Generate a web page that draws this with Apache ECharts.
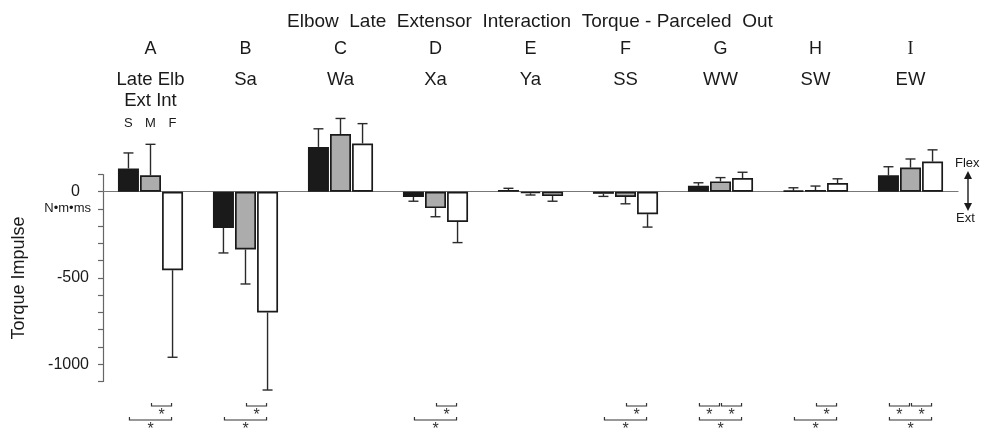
<!DOCTYPE html>
<html>
<head>
<meta charset="utf-8">
<script src="https://cdn.jsdelivr.net/npm/echarts@6/dist/echarts.min.js"></script>
<style>
  html, body { margin: 0; background: #fff; }
  #chart { width: 983px; height: 433px; }
</style>
</head>
<body>
<div id="chart"></div>
<script>
// categories (interaction torque components)
const groups = ['A', 'B', 'C', 'D', 'E', 'F', 'G', 'H', 'I'];
const groupNames = ['Late Elb\nExt Int', 'Sa', 'Wa', 'Xa', 'Ya', 'SS', 'WW', 'SW', 'EW'];
const speeds = ['S', 'M', 'F'];

// mean torque impulse (N·m·ms) and SD, per speed
const slowMean = [135, -210, 260, -30, 10, -12, 35, 6, 95];
const slowSd = [90, 145, 105, 25, 10, 15, 17, 17, 50];
const mediumMean = [95, -335, 335, -95, -9, -30, 60, 10, 140];
const mediumSd = [180, 200, 90, 50, 10, 40, 22, 23, 50];
const fastMean = [-455, -700, 280, -175, -25, -130, 80, 50, 175];
const fastSd = [505, 450, 115, 120, 30, 75, 33, 25, 68];

// y axis
const yMin = -1100;
const yMax = 100;
const yStep = 100;
const yLabelled = [0, -500, -1000];

// significant differences: [group, speedA, speedB, row]
const sigPairs = [
  [0, 1, 2, 0], [0, 0, 2, 1],
  [1, 1, 2, 0], [1, 0, 2, 1],
  [3, 1, 2, 0], [3, 0, 2, 1],
  [5, 1, 2, 0], [5, 0, 2, 1],
  [6, 0, 1, 0], [6, 1, 2, 0], [6, 0, 2, 1],
  [7, 1, 2, 0], [7, 0, 2, 1],
  [8, 0, 1, 0], [8, 1, 2, 0], [8, 0, 2, 1]
];

const INK = '#1a1a1a';
const FONT = 'Arial, "Liberation Sans", sans-serif';
const barWidth = 21;
const barGapRatio = 0.05;
const barStep = barWidth * (1 + barGapRatio);
const fills = ['#1a1a1a', '#acacac', '#ffffff'];
const means = [slowMean, mediumMean, fastMean];
const sds = [slowSd, mediumSd, fastSd];

const chart = echarts.init(document.getElementById('chart'), null, { renderer: 'canvas' });

function barSeries(k) {
  return {
    type: 'bar',
    name: speeds[k],
    data: means[k],
    barWidth: barWidth,
    barGap: (barGapRatio * 100) + '%',
    clip: false,
    itemStyle: { color: fills[k], borderColor: INK, borderWidth: 1.7 },
    silent: true,
    z: 3
  };
}

function errorSeries(k) {
  return {
    type: 'custom',
    name: speeds[k] + ' sd',
    data: means[k].map((m, i) => [i, m, m + Math.sign(m || 1) * sds[k][i]]),
    encode: { x: 0, y: [1, 2] },
    clip: false,
    silent: true,
    z: 2,
    renderItem: function (params, api) {
      const i = api.value(0);
      const p0 = api.coord([i, api.value(1)]);
      const p1 = api.coord([i, api.value(2)]);
      const x = p0[0] + (k - 1) * barStep;
      const style = { stroke: '#2a2a2a', lineWidth: 1.4, fill: 'none' };
      return {
        type: 'group',
        children: [
          { type: 'line', shape: { x1: x, y1: p0[1], x2: x, y2: p1[1] }, style: style },
          { type: 'line', shape: { x1: x - 5, y1: p1[1], x2: x + 5, y2: p1[1] }, style: style }
        ]
      };
    }
  };
}

// letters, names and S M F above each group
const headerSeries = {
  type: 'custom',
  name: 'headers',
  data: groups.map((g, i) => [i, 0]),
  clip: false,
  silent: true,
  renderItem: function (params, api) {
    const i = api.value(0);
    const x = api.coord([i, 0])[0];
    const kids = [
      {
        type: 'text',
        style: {
          text: groups[i], x: x, y: 49, align: 'center', verticalAlign: 'middle',
          fontSize: 18, fill: INK,
          fontFamily: groups[i] === 'I' ? '"Liberation Serif", serif' : FONT
        }
      },
      {
        type: 'text',
        style: {
          text: groupNames[i], x: x, y: 70, align: 'center', verticalAlign: 'top',
          fontSize: 18.5, lineHeight: 20.5, fill: INK, fontFamily: FONT
        }
      }
    ];
    if (i === 0) {
      speeds.forEach((s, k) => {
        kids.push({
          type: 'text',
          style: {
            text: s, x: x + (k - 1) * barStep, y: 123, align: 'center', verticalAlign: 'middle',
            fontSize: 13, fill: INK, fontFamily: FONT
          }
        });
      });
    }
    return { type: 'group', children: kids };
  }
};

// significance brackets below the plot
const sigSeries = {
  type: 'custom',
  name: 'significance',
  data: sigPairs.map(p => [p[0], 0, p[1], p[2], p[3]]),
  clip: false,
  silent: true,
  renderItem: function (params, api) {
    const g = api.value(0);
    const cx = api.coord([g, 0])[0];
    const a = api.value(2), b = api.value(3), row = api.value(4);
    const x1 = cx + (a - 1) * barStep + 1;
    const x2 = cx + (b - 1) * barStep - 1;
    const y = row === 0 ? 406 : 420;
    const style = { stroke: '#333', lineWidth: 1.2, fill: 'none' };
    return {
      type: 'group',
      children: [
        { type: 'polyline', shape: { points: [[x1, y - 3], [x1, y], [x2, y], [x2, y - 3]] }, style: style },
        {
          type: 'text',
          style: {
            text: '*', x: (x1 + x2) / 2, y: y + 2, align: 'center', verticalAlign: 'top',
            fontSize: 16, fill: '#333', fontFamily: FONT
          }
        }
      ]
    };
  }
};

chart.setOption({
  animation: false,
  backgroundColor: '#fff',
  textStyle: { fontFamily: FONT },
  grid: { left: 103, right: 25, top: 174.5, bottom: 51.6, containLabel: false },
  xAxis: {
    type: 'category',
    data: groups,
    axisLine: { onZero: true, lineStyle: { color: '#777', width: 1.2 } },
    axisTick: { show: false },
    axisLabel: { show: false },
    splitLine: { show: false }
  },
  yAxis: {
    type: 'value',
    min: yMin,
    max: yMax,
    interval: yStep,
    name: 'Torque Impulse',
    nameLocation: 'middle',
    nameRotate: 90,
    nameGap: 75,
    nameTextStyle: { fontSize: 18, color: INK, fontFamily: FONT },
    axisLine: { show: true, lineStyle: { color: '#666', width: 1.2 } },
    axisTick: { show: true, length: 5, lineStyle: { color: '#666', width: 1.2 } },
    axisLabel: {
      margin: 14,
      fontSize: 16,
      color: INK,
      formatter: v => (v === 0 ? '{z|0}' : (yLabelled.indexOf(v) >= 0 ? String(v) : '')),
      rich: { z: { fontSize: 16, color: INK, padding: [0, 9, 0, 0] } }
    },
    splitLine: { show: false }
  },
  title: {
    text: 'Elbow  Late  Extensor  Interaction  Torque - Parceled  Out',
    left: 282,
    top: 7,
    textStyle: { fontSize: 19, fontWeight: 'normal', color: INK, fontFamily: FONT }
  },
  graphic: [
    {
      type: 'text', right: 983 - 91, top: 202,
      style: { text: 'N\u2022m\u2022ms', fontSize: 13, fill: INK, fontFamily: FONT }
    },
    {
      type: 'text', left: 955, top: 157,
      style: { text: 'Flex', fontSize: 13, fill: INK, fontFamily: FONT }
    },
    {
      type: 'text', left: 956, top: 212,
      style: { text: 'Ext', fontSize: 13, fill: INK, fontFamily: FONT }
    },
    {
      type: 'line', shape: { x1: 968, y1: 176, x2: 968, y2: 206 },
      style: { stroke: INK, lineWidth: 1.4 }
    },
    {
      type: 'polygon', shape: { points: [[968, 171], [964, 179], [972, 179]] },
      style: { fill: INK }
    },
    {
      type: 'polygon', shape: { points: [[968, 211], [964, 203], [972, 203]] },
      style: { fill: INK }
    }
  ],
  series: [
    errorSeries(0), errorSeries(1), errorSeries(2),
    barSeries(0), barSeries(1), barSeries(2),
    headerSeries, sigSeries
  ]
});
</script>
</body>
</html>
